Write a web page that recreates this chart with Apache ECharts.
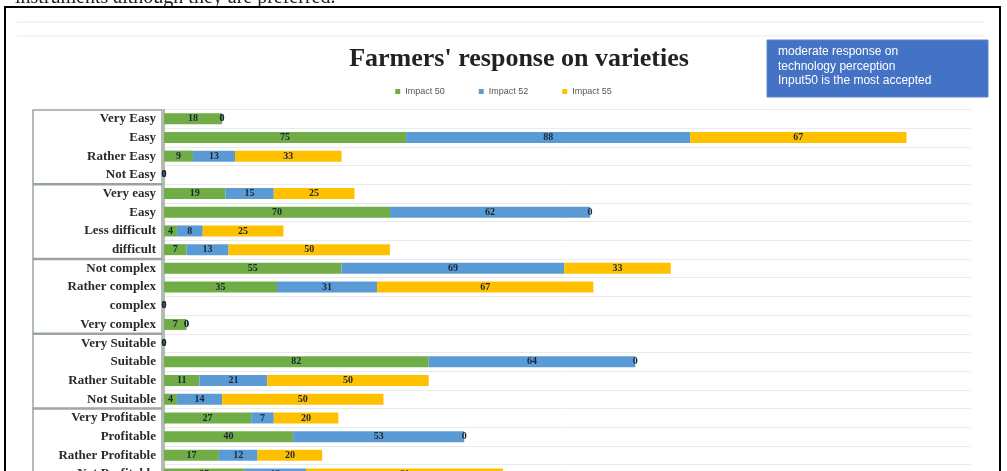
<!DOCTYPE html>
<html>
<head>
<meta charset="utf-8">
<script src="https://cdn.jsdelivr.net/npm/echarts@6/dist/echarts.min.js"></script>
<style>
html,body{margin:0;padding:0;background:#fff;overflow:hidden;width:1007px;height:471px;}
#chart{width:1007px;height:495px;}
</style>
</head>
<body>
<div id="chart"></div>
<script>
const categories = ['Very Easy','Easy','Rather Easy','Not Easy','Very easy','Easy','Less difficult','difficult','Not complex','Rather complex','complex','Very complex','Very Suitable','Suitable','Rather Suitable','Not Suitable','Very Profitable','Profitable','Rather Profitable','Not Profitable'];
const impact50 = [18,75,9,0,19,70,4,7,55,35,0,7,0,82,11,4,27,40,17,25];
const impact52 = [0,88,13,0,15,62,8,13,69,31,0,0,0,64,21,14,7,53,12,19];
const impact55 = [0,67,33,0,25,0,25,50,33,67,0,0,0,0,50,50,20,0,20,61];
const seriesNames = ['Impact 50','Impact 52','Impact 55'];
const groups = [[0,3],[4,7],[8,11],[12,15],[16,19]];
const titleText = "Farmers' response on varieties";
const noteLines = ['moderate response on','technology perception','Input50 is the most accepted'];
const topText = 'instruments although they are preferred.';

const gridTop = 109.4, gridHeight = 374, gridLeft = 164, gridWidth = 807;
const pitch = gridHeight / categories.length;

const chart = echarts.init(document.getElementById('chart'));
const colors = ['#70AD47','#5B9BD5','#FFC000'];
const labelStyle = {show:true, position:'inside', color:'#1c2633', fontWeight:'bold', fontSize:10, fontFamily:'Liberation Serif'};

const graphics = [];
// cut text at top
graphics.push({type:'text', x:15, y:-12, style:{text:topText, font:'20px "Liberation Serif"', fill:'#222'}});
// sheet band lines
graphics.push({type:'line', shape:{x1:17,y1:22,x2:985,y2:22}, style:{stroke:'#e6e6e6', lineWidth:1}, silent:true});
graphics.push({type:'line', shape:{x1:17,y1:36,x2:985,y2:36}, style:{stroke:'#ececec', lineWidth:1}, silent:true});
// outer frame
graphics.push({type:'rect', shape:{x:5,y:7,width:995,height:480}, style:{fill:'none', stroke:'#000', lineWidth:2}, silent:true});
// group boxes
groups.forEach(g => {
  graphics.push({type:'rect', shape:{x:33, y:gridTop + g[0]*pitch + 0.5, width:129, height:(g[1]-g[0]+1)*pitch - 1},
    style:{fill:'none', stroke:'#9aa59a', lineWidth:1.5}, silent:true});
});
// note box
graphics.push({type:'rect', shape:{x:767,y:40,width:221,height:57}, style:{fill:'#4472C4', stroke:'#5b86d0', lineWidth:1}, silent:true});
noteLines.forEach((t,i) => {
  graphics.push({type:'text', x:778, y:46 + i*14.5, style:{text:t, font:'12px "Liberation Sans"', fill:'#fff'}});
});

const option = {
  animation:false,
  backgroundColor:'#fff',
  color:colors,
  title:{text:titleText, left:514, top:41, textAlign:'center',
    textStyle:{fontFamily:'Liberation Serif', fontWeight:'bold', fontSize:26, color:'#222'}},
  legend:{data:seriesNames, left:'center', top:82, itemWidth:5, itemHeight:5, itemGap:34, icon:'rect',
    textStyle:{fontSize:9, color:'#555', fontFamily:'Liberation Sans'}},
  grid:{left:gridLeft, top:gridTop, width:gridWidth, height:gridHeight, containLabel:false},
  xAxis:{type:'value', min:0, max:250, show:false, splitLine:{show:false}},
  yAxis:{type:'category', data:categories, inverse:true,
    axisLine:{show:true, lineStyle:{color:'#9aa59a', width:1.5}},
    axisTick:{show:false},
    axisLabel:{margin:8, color:'#2a2a2a', fontWeight:'bold', fontSize:13, fontFamily:'Liberation Serif', interval:0},
    splitLine:{show:true, interval:0, lineStyle:{color:'#ebebeb', width:1}}},
  series:[impact50, impact52, impact55].map((d,i) => ({
    name:seriesNames[i], type:'bar', stack:'total', data:d, barWidth:11,
    itemStyle:{color:colors[i]}, label:labelStyle
  })),
  graphic:graphics
};
chart.setOption(option);
</script>
</body>
</html>
